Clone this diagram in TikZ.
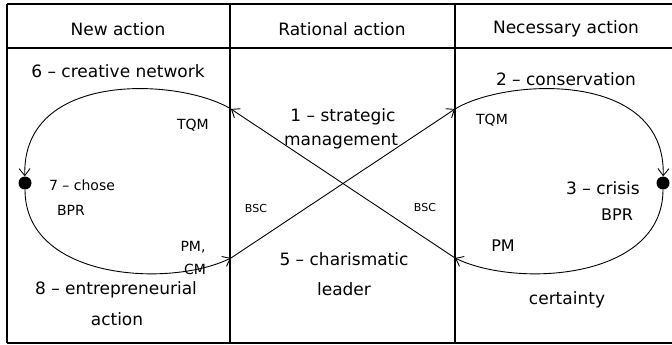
\documentclass[tikz,border=0pt]{standalone}
\usepackage{fontspec}
\setmainfont{DejaVu Sans}
\usetikzlibrary{arrows.meta}

\begin{document}
\begin{tikzpicture}[x=1pt, y=-1pt,
  every node/.style={black, inner sep=0pt, font=\fontsize{17}{21}\selectfont},
  small/.style={font=\fontsize{14}{17}\selectfont},
  tiny/.style={font=\fontsize{11}{13}\selectfont},
  flow/.style={line width=0.9pt, -{Straight Barb[length=7pt,width=11pt]}},
  spot/.style={circle, fill=black, minimum size=13pt}]
\useasboundingbox (0,0) rectangle (672,345);
% table
\draw[line width=1.2pt] (7,4) -- (672,4) (7,48) -- (672,48) (7,343) -- (672,343)
  (7,4) -- (7,343) (230,4) -- (230,343) (455,4) -- (455,343);
\node (new) at (118,29) {New action};
\node (rational) at (342,29) {Rational action};
\node (necessary) at (566,29) {Necessary action};

% junctions and dots
\coordinate (tl) at (231,109);
\coordinate (bl) at (231,258);
\coordinate (tr) at (455,109);
\coordinate (br) at (455,258);
\node[spot] (ldot) at (25,183) {};
\node[spot] (rdot) at (663,183) {};

% loops
\draw[flow] (tl) .. controls (180,78) and (22,70) .. (ldot);
\draw[flow] (ldot) .. controls (25,280) and (170,288) .. (bl);
\draw[flow] (bl) -- (tr);
\draw[flow] (tr) .. controls (506,78) and (666,70) .. (rdot);
\draw[flow] (rdot) .. controls (663,280) and (516,288) .. (br);
\draw[flow] (br) -- (tl);

% labels
\node (creative) at (118,71) {6 -- creative network};
\node[small] (tqml) at (193,125) {TQM};
\node (strategic) at (343,117) {1 -- strategic};
\node (management) at (341,141) {management};
\node (conservation) at (566,79) {2 -- conservation};
\node[small] (tqmr) at (492,120) {TQM};
\node[small] (chose) at (82,185) {7 -- chose};
\node[small] (bprl) at (71,210) {BPR};
\node[tiny] (bscl) at (256,208) {BSC};
\node[tiny] (bscr) at (425,207) {BSC};
\node[small] (pml) at (193,247) {PM,};
\node[small] (cml) at (195,269) {CM};
\node (entrepreneurial) at (116,290) {8 -- entrepreneurial};
\node (action) at (117,319) {action};
\node (charismatic) at (344,259) {5 -- charismatic};
\node (leader) at (344,289) {leader};
\node (crisis) at (603,188) {3 -- crisis};
\node[font=\fontsize{16}{19}\selectfont] (bprr) at (617,215) {BPR};
\node[font=\fontsize{16}{19}\selectfont] (pmr) at (503,246) {PM};
\node (certainty) at (567,300) {certainty};
\end{tikzpicture}
\end{document}
